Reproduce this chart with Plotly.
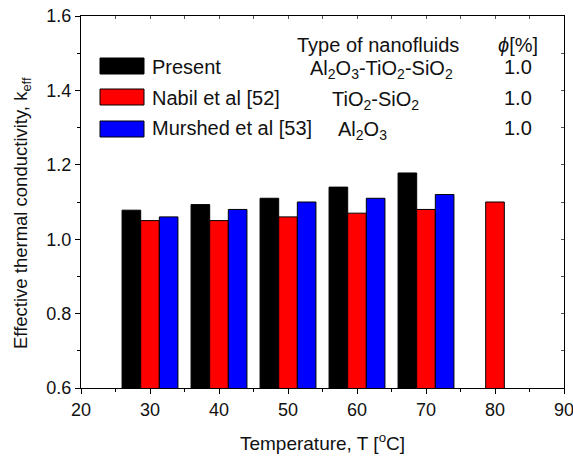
import plotly.graph_objects as go

# Thermal conductivity data
temps_present = [30, 40, 50, 60, 70]
k_present = [1.078, 1.093, 1.110, 1.140, 1.178]
temps_nabil = [30, 40, 50, 60, 70, 80]
k_nabil = [1.05, 1.05, 1.06, 1.07, 1.08, 1.10]
temps_murshed = [30, 40, 50, 60, 70]
k_murshed = [1.06, 1.08, 1.10, 1.11, 1.12]

series_names = ["Present", "Nabil et al [52]", "Murshed et al [53]"]
series_colors = ["#000000", "#ff0000", "#0000ff"]
fluid_types = ["Al<sub>2</sub>O<sub>3</sub>-TiO<sub>2</sub>-SiO<sub>2</sub>",
               "TiO<sub>2</sub>-SiO<sub>2</sub>",
               "Al<sub>2</sub>O<sub>3</sub>"]
phi_values = ["1.0", "1.0", "1.0"]

W, H = 573, 457
L, R, T, B = 81, 9, 16, 69
FONT = "Liberation Sans, Arial, sans-serif"


def px(x):
    return (x - L) / (W - L - R)


def py(y):
    return (H - B - y) / (H - T - B)


fig = go.Figure()
for name, xs, ys, col in zip(series_names,
                             [temps_present, temps_nabil, temps_murshed],
                             [k_present, k_nabil, k_murshed],
                             series_colors):
    fig.add_trace(go.Bar(x=xs, y=ys, name=name, marker_color=col,
                         marker_line=dict(color="black", width=1),
                         showlegend=False, xaxis="x", yaxis="y"))

# invisible trace to carry the mirrored (top/right) axes with inward ticks
fig.add_trace(go.Scatter(x=[20], y=[0.6], mode="markers", opacity=0,
                         showlegend=False, hoverinfo="skip",
                         xaxis="x2", yaxis="y2"))

axis_common = dict(showgrid=False, zeroline=False, linecolor="black",
                   linewidth=1.3, tickcolor="black", automargin=False,
                   tickfont=dict(family=FONT, size=18, color="#111"))

fig.update_layout(
    width=W, height=H,
    margin=dict(l=L, r=R, t=T, b=B),
    plot_bgcolor="white", paper_bgcolor="white",
    barmode="group", bargap=0.19, bargroupgap=0,
    xaxis=dict(range=[20, 90], tickvals=[20, 30, 40, 50, 60, 70, 80, 90],
               ticks="outside", ticklen=5, tickwidth=1.3,
               ticklabeloverflow="allow",
               minor=dict(tickvals=[25, 35, 45, 55, 65, 75, 85], ticks="outside",
                          ticklen=3, tickcolor="black", tickwidth=1.2),
               title=dict(text="Temperature, T [<sup>o</sup>C]", standoff=17,
                          font=dict(family=FONT, size=19, color="#111")),
               **axis_common),
    yaxis=dict(range=[0.6, 1.6], tickvals=[0.6, 0.8, 1.0, 1.2, 1.4, 1.6],
               ticktext=["0.6", "0.8", "1.0", "1.2", "1.4", "1.6"],
               ticks="outside", ticklen=5, tickwidth=1.3,
               minor=dict(tickvals=[0.7, 0.9, 1.1, 1.3, 1.5], ticks="outside",
                          ticklen=3, tickcolor="black", tickwidth=1.2),
               **axis_common),
    xaxis2=dict(range=[20, 90], overlaying="x", side="top", anchor="y2",
                tickvals=[25, 30, 35, 40, 45, 50, 55, 60, 65, 70, 75, 80, 85],
                ticks="inside", ticklen=3, tickwidth=1, showticklabels=False,
                showgrid=False, zeroline=False, linecolor="black", linewidth=1.3,
                tickcolor="#555", automargin=False),
    yaxis2=dict(range=[0.6, 1.6], overlaying="y", side="right", anchor="x2",
                tickvals=[0.7, 0.8, 0.9, 1.0, 1.1, 1.2, 1.3, 1.4, 1.5],
                ticks="inside", ticklen=3, tickwidth=1, showticklabels=False,
                showgrid=False, zeroline=False, linecolor="black", linewidth=1.3,
                tickcolor="#555", automargin=False),
)

# y-axis title placed as a rotated annotation
fig.add_annotation(x=px(22), y=py(213), xref="paper", yref="paper",
                   text="Effective thermal conductivity, k<sub>eff</sub>",
                   textangle=-90, showarrow=False, xanchor="center",
                   yanchor="middle",
                   font=dict(family=FONT, size=18.5, color="#111"))

# legend table: swatches, series names, nanofluid types and concentrations
text_font = dict(family=FONT, size=20, color="#111")
row_y = [67, 98, 128]
sw_top = [58, 89, 121]
for i in range(3):
    fig.add_shape(type="rect", xref="paper", yref="paper",
                  x0=px(100), x1=px(144), y0=py(sw_top[i]), y1=py(sw_top[i] + 16),
                  fillcolor=series_colors[i], line=dict(color="black", width=1))
    fig.add_annotation(x=px(150), y=py(row_y[i]), xref="paper", yref="paper",
                       text=series_names[i], showarrow=False, xanchor="left",
                       yanchor="middle", font=text_font)
    fig.add_annotation(x=px(534), y=py(row_y[i]), xref="paper", yref="paper",
                       text=phi_values[i], showarrow=False, xanchor="right",
                       yanchor="middle", font=text_font)

fig.add_annotation(x=px(381), y=py(row_y[0] + 2), xref="paper", yref="paper",
                   text=fluid_types[0], showarrow=False, xanchor="center",
                   yanchor="middle", font=text_font)
fig.add_annotation(x=px(375), y=py(row_y[1] + 2), xref="paper", yref="paper",
                   text=fluid_types[1], showarrow=False, xanchor="center",
                   yanchor="middle", font=text_font)
fig.add_annotation(x=px(336), y=py(row_y[2] + 2), xref="paper", yref="paper",
                   text=fluid_types[2], showarrow=False, xanchor="left",
                   yanchor="middle", font=text_font)
fig.add_annotation(x=px(461), y=py(45), xref="paper", yref="paper",
                   text="Type of nanofluids", showarrow=False, xanchor="right",
                   yanchor="middle", font=text_font)
fig.add_annotation(x=px(540), y=py(45), xref="paper", yref="paper",
                   text="<i>\u03d5</i>[%]", showarrow=False, xanchor="right",
                   yanchor="middle", font=text_font)

fig.write_html("out.html")
